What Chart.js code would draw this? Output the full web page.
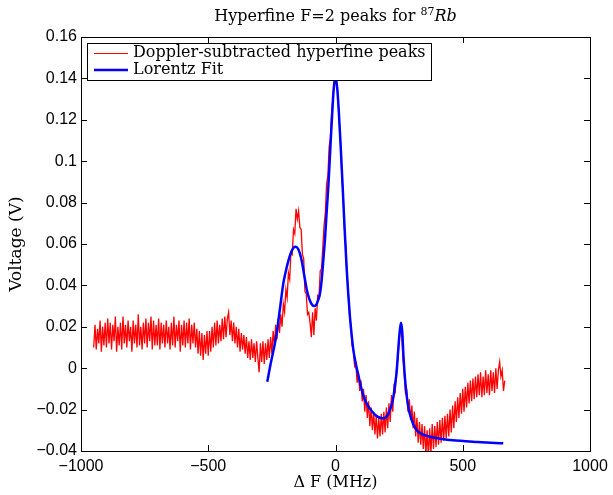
<!DOCTYPE html>
<html>
<head>
<meta charset="utf-8">
<script src="https://cdn.jsdelivr.net/npm/chart.js@4.4.0/dist/chart.umd.min.js"></script>
<style>
html, body { margin: 0; padding: 0; background: #fff; }
#wrap { width: 613px; height: 495px; }
</style>
</head>
<body>
<div id="wrap"><canvas id="chart" width="613" height="495"></canvas></div>
<script>
const xTicks = [-1000, -500, 0, 500, 1000];
const xTickLabels = ['−1000', '−500', '0', '500', '1000'];
const yTicks = [-0.04, -0.02, 0, 0.02, 0.04, 0.06, 0.08, 0.1, 0.12, 0.14, 0.16];
const yTickLabels = ['−0.04', '−0.02', '0', '0.02', '0.04', '0.06', '0.08', '0.1', '0.12', '0.14', '0.16'];

// measured trace, sampled every 5 MHz starting at -950 MHz
const redStartMHz = -950;
const redStepMHz = 5;
const redVoltage = [
    0.010, 0.021, 0.009, 0.019, 0.012, 0.023, 0.008, 0.020, 0.011, 0.022,
    0.010, 0.024, 0.012, 0.022, 0.009, 0.021, 0.013, 0.025, 0.008, 0.020,
    0.011, 0.022, 0.009, 0.025, 0.012, 0.021, 0.010, 0.023, 0.013, 0.020,
    0.008, 0.023, 0.012, 0.021, 0.010, 0.026, 0.011, 0.020, 0.009, 0.022,
    0.012, 0.024, 0.010, 0.022, 0.013, 0.025, 0.009, 0.023, 0.011, 0.021,
    0.011, 0.024, 0.009, 0.022, 0.012, 0.021, 0.010, 0.023, 0.012, 0.020,
    0.009, 0.022, 0.011, 0.025, 0.010, 0.021, 0.013, 0.023, 0.008, 0.021,
    0.011, 0.023, 0.010, 0.022, 0.012, 0.024, 0.009, 0.021, 0.012, 0.022,
    0.010, 0.019, 0.007, 0.018, 0.006, 0.017, 0.004, 0.016, 0.007, 0.018,
    0.006, 0.018, 0.008, 0.020, 0.010, 0.022, 0.011, 0.023, 0.012, 0.021,
    0.013, 0.024, 0.014, 0.025, 0.015, 0.024, 0.027, 0.016, 0.023, 0.013,
    0.022, 0.012, 0.020, 0.010, 0.019, 0.008, 0.017, 0.009, 0.016, 0.007,
    0.015, 0.005, 0.013, 0.004, 0.014, 0.005, 0.012, 0.003, 0.013, 0.005,
    -0.002, 0.012, 0.003, 0.013, 0.002, 0.012, 0.004, 0.014, 0.005, 0.015,
    0.007, 0.018, 0.011, 0.021, 0.014, 0.024, 0.017, 0.026, 0.020, 0.031,
    0.027, 0.038, 0.034, 0.046, 0.043, 0.056, 0.055, 0.067, 0.065, 0.077,
    0.072, 0.076, 0.068, 0.067, 0.055, 0.053, 0.037, 0.036, 0.026, 0.027,
    0.022, 0.015, 0.027, 0.016, 0.029, 0.023, 0.035, 0.034, 0.047, 0.048,
    0.058, 0.069, 0.075, 0.089, 0.093, 0.107, 0.111, 0.124, 0.130, 0.139,
    0.143, 0.138, 0.131, 0.118, 0.108, 0.093, 0.083, 0.068, 0.059, 0.046,
    0.037, 0.026, 0.021, 0.011, 0.009, 0.001, 0.002, -0.007, -0.002, -0.011,
    -0.006, -0.016, -0.010, -0.021, -0.013, -0.024, -0.016, -0.028, -0.019, -0.030,
    -0.021, -0.032, -0.023, -0.034, -0.024, -0.033, -0.022, -0.032, -0.021, -0.031,
    -0.019, -0.029, -0.017, -0.026, -0.013, -0.021, -0.009, -0.011, 0.000, 0.004,
    0.014, 0.018, 0.017, 0.005, -0.002, -0.012, -0.011, -0.021, -0.015, -0.025,
    -0.018, -0.029, -0.021, -0.033, -0.024, -0.036, -0.026, -0.037, -0.027, -0.039,
    -0.028, -0.042, -0.030, -0.043, -0.029, -0.041, -0.027, -0.039, -0.028, -0.038,
    -0.026, -0.037, -0.025, -0.036, -0.024, -0.035, -0.023, -0.034, -0.022, -0.033,
    -0.020, -0.031, -0.018, -0.029, -0.016, -0.026, -0.014, -0.024, -0.012, -0.022,
    -0.010, -0.021, -0.009, -0.019, -0.007, -0.017, -0.006, -0.016, -0.005, -0.015,
    -0.004, -0.014, -0.003, -0.013, -0.002, -0.014, -0.004, -0.013, -0.001, -0.012,
    -0.003, -0.013, -0.001, -0.011, -0.002, -0.012, 0.000, -0.010, -0.001, 0.003,
    -0.004, -0.001, -0.011, -0.006
];

// Lorentz fit curve
const fitFreq = [
    -268, -255, -243, -231, -218, -205, -195, -185, -175, -165,
    -156, -147, -140, -133, -123, -113, -103, -94, -85, -76,
    -68, -61, -54, -48, -41, -35, -28, -20, -13, -7,
    0, 7, 13, 20, 28, 36, 44, 50, 57, 64,
    70, 80, 90, 100, 109, 120, 135, 148, 160, 172,
    185, 195, 205, 214, 222, 228, 234, 240, 246, 251,
    257, 262, 267, 273, 280, 287, 293, 305, 319, 340,
    371, 420, 460, 502, 560, 610, 659
];
const fitVoltage = [
    -0.0065, 0.002, 0.009, 0.017, 0.029, 0.041, 0.047, 0.052, 0.0558, 0.0582,
    0.0587, 0.0577, 0.0555, 0.052, 0.045, 0.038, 0.0335, 0.031, 0.030, 0.0305,
    0.033, 0.036, 0.043, 0.052, 0.063, 0.075, 0.088, 0.107, 0.123, 0.135,
    0.1405, 0.135, 0.124, 0.108, 0.088, 0.067, 0.048, 0.036, 0.0245, 0.0155,
    0.009, 0.002, -0.0035, -0.009, -0.013, -0.0165, -0.0195, -0.0215, -0.023, -0.0238,
    -0.0242, -0.024, -0.0225, -0.020, -0.017, -0.0135, -0.008, -0.002, 0.008, 0.016,
    0.022, 0.018, 0.006, -0.005, -0.0135, -0.0195, -0.0225, -0.027, -0.030, -0.0318,
    -0.0331, -0.0342, -0.0348, -0.0352, -0.0357, -0.036, -0.0363
];

const serif = 'DejaVu Serif';
const sans = 'Liberation Sans';

const redPoints = redVoltage.map((v, i) => ({ x: redStartMHz + i * redStepMHz, y: v }));
const fitPoints = fitFreq.map((f, i) => ({ x: f, y: fitVoltage[i] }));

const framePlugin = {
    id: 'frame',
    afterDatasetsDraw(chart) {
        const { ctx, chartArea: a, scales } = chart;
        ctx.save();
        ctx.strokeStyle = '#000';
        ctx.lineWidth = 1;
        ctx.beginPath();
        xTicks.forEach(v => {
            const px = Math.round(scales.x.getPixelForValue(v)) + 0.5;
            ctx.moveTo(px, a.bottom); ctx.lineTo(px, a.bottom - 6);
            ctx.moveTo(px, a.top); ctx.lineTo(px, a.top + 6);
        });
        yTicks.forEach(v => {
            const py = Math.round(scales.y.getPixelForValue(v)) + 0.5;
            ctx.moveTo(a.left, py); ctx.lineTo(a.left + 6, py);
            ctx.moveTo(a.right, py); ctx.lineTo(a.right - 6, py);
        });
        ctx.stroke();
        ctx.strokeRect(Math.round(a.left) + 0.5, Math.round(a.top) + 0.5, Math.round(a.width), Math.round(a.height));
        ctx.restore();
    },
    afterDraw(chart) {
        const { ctx, chartArea: a } = chart;
        ctx.save();
        // legend box
        ctx.fillStyle = '#fff';
        ctx.fillRect(87, 43, 344, 37);
        ctx.strokeStyle = '#000';
        ctx.lineWidth = 1;
        ctx.strokeRect(87.5, 43.5, 344, 37);
        ctx.lineWidth = 1;
        ctx.strokeStyle = '#ff0000';
        ctx.beginPath(); ctx.moveTo(94, 53.5); ctx.lineTo(128, 53.5); ctx.stroke();
        ctx.lineWidth = 2.5;
        ctx.strokeStyle = '#0000ff';
        ctx.beginPath(); ctx.moveTo(94, 70); ctx.lineTo(128, 70); ctx.stroke();
        ctx.fillStyle = '#000';
        ctx.font = '16px "' + serif + '"';
        ctx.textBaseline = 'middle';
        ctx.textAlign = 'left';
        ctx.fillText('Doppler-subtracted hyperfine peaks', 133, 53);
        ctx.fillText('Lorentz Fit', 133, 70);

        // title with superscript and italic symbol
        const main = 'Hyperfine F=2 peaks for ';
        ctx.font = '16px "' + serif + '"';
        const w1 = ctx.measureText(main).width;
        ctx.font = '11px "' + serif + '"';
        const w2 = ctx.measureText('87').width;
        ctx.font = 'italic 16px "' + serif + '"';
        const w3 = ctx.measureText('Rb').width;
        let x = (a.left + a.right) / 2 - (w1 + w2 + w3) / 2;
        const base = 21;
        ctx.textBaseline = 'alphabetic';
        ctx.font = '16px "' + serif + '"';
        ctx.fillText(main, x, base);
        x += w1;
        ctx.font = '11px "' + serif + '"';
        ctx.fillText('87', x, base - 6);
        x += w2;
        ctx.font = 'italic 16px "' + serif + '"';
        ctx.fillText('Rb', x, base);
        ctx.restore();
    }
};

new Chart(document.getElementById('chart'), {
    type: 'line',
    data: {
        datasets: [
            {
                label: 'Doppler-subtracted hyperfine peaks',
                data: redPoints,
                borderColor: '#ff0000',
                borderWidth: 1.3,
                pointRadius: 0,
                tension: 0,
                order: 2
            },
            {
                label: 'Lorentz Fit',
                data: fitPoints,
                borderColor: '#0000ff',
                borderWidth: 2.5,
                pointRadius: 0,
                cubicInterpolationMode: 'monotone',
                order: 1
            }
        ]
    },
    options: {
        responsive: false,
        animation: false,
        layout: { padding: { top: 37, right: 23, bottom: 0, left: 0 } },
        plugins: {
            legend: { display: false },
            title: { display: false },
            tooltip: { enabled: false }
        },
        scales: {
            x: {
                type: 'linear',
                min: -1000,
                max: 1000,
                afterBuildTicks: s => { s.ticks = xTicks.map(v => ({ value: v })); },
                afterFit: s => { s.height = 44; s.paddingLeft = 0; s.paddingRight = 0; },
                grid: { display: false, drawTicks: false },
                border: { display: false },
                ticks: {
                    autoSkip: false,
                    maxRotation: 0,
                    padding: 6,
                    color: '#000',
                    font: { family: sans, size: 16 },
                    callback: v => xTickLabels[xTicks.indexOf(v)]
                },
                title: {
                    display: true,
                    text: 'Δ F (MHz)',
                    color: '#000',
                    font: { family: serif, size: 16 },
                    padding: { top: 0, bottom: 3 }
                }
            },
            y: {
                min: -0.04,
                max: 0.16,
                afterBuildTicks: s => { s.ticks = yTicks.map(v => ({ value: v })); },
                afterFit: s => { s.width = 81; s.paddingTop = 0; s.paddingBottom = 0; },
                grid: { display: false, drawTicks: false },
                border: { display: false },
                ticks: {
                    autoSkip: false,
                    padding: 4,
                    color: '#000',
                    font: { family: sans, size: 16 },
                    callback: v => yTickLabels[yTicks.indexOf(v)]
                },
                title: {
                    display: true,
                    text: 'Voltage (V)',
                    color: '#000',
                    font: { family: serif, size: 17 },
                    padding: { top: 6, bottom: 0 }
                }
            }
        }
    },
    plugins: [framePlugin]
});
</script>
</body>
</html>
